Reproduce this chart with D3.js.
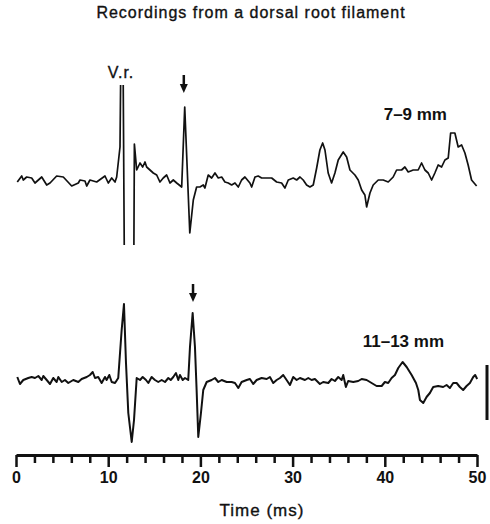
<!DOCTYPE html>
<html>
<head>
<meta charset="utf-8">
<script src="https://cdn.jsdelivr.net/npm/d3@7"></script>
<style>
body { margin:0; background:#fff; }
text { font-family: "Liberation Sans", Arial, sans-serif; fill:#111; }
</style>
</head>
<body>
<svg id="chart"></svg>
<script>
var W = 490, H = 524;

// recording 7-9 mm (time ms, amplitude arbitrary units, 0 = resting level)
var trace_79 = [
 [0.14,-2],[0.62,4],[0.79,0],[1.16,3],[1.70,2],[2.06,-3],[2.79,3],[3.33,-5],[3.69,-3],[4.41,4],
 [5.13,3],[6.04,-6],[6.76,-3],[6.94,0],[7.48,-1],[7.67,-6],[8.02,0],[8.75,-2],[9.65,4],[10.01,-3],
 [10.38,2],[10.74,-2],[10.92,3],[11.28,33],[11.36,110],[11.62,110],[11.75,-80],[12.78,-80],[12.84,36],[13.09,10],
 [13.45,17],[13.74,13],[13.99,18],[14.17,13],[14.53,10],[14.89,7],[15.26,5],[15.61,-2],[15.97,2],[16.34,5],
 [16.70,-3],[17.06,0],[17.43,-3],[17.97,-7],[18.30,73],[18.85,-53],[19.23,-20],[19.59,-7],[19.95,-7],[20.31,-5],
 [20.49,-8],[20.85,5],[21.22,2],[21.58,7],[21.94,2],[22.31,3],[22.66,-2],[23.02,-3],[23.39,-5],[23.75,-3],
 [24.11,-7],[24.47,0],[24.83,3],[25.37,-3],[25.56,-7],[25.92,3],[26.27,4],[26.64,2],[27.73,2],[28.27,-2],
 [28.81,-3],[29.17,-8],[29.53,0],[30.07,2],[30.44,0],[30.80,3],[31.15,0],[31.52,-5],[31.88,-7],[32.24,-5],
 [32.61,12],[32.96,30],[33.26,37],[33.51,30],[33.86,7],[34.23,-3],[34.59,7],[34.95,20],[35.49,28],[35.86,23],
 [36.22,10],[36.76,5],[37.12,0],[37.49,-10],[37.84,-15],[38.03,-27],[38.39,-13],[38.74,-5],[39.29,0],[39.83,0],
 [40.37,-2],[40.91,3],[41.28,10],[41.82,10],[42.18,13],[42.54,8],[43.08,10],[43.62,10],[43.99,17],[44.35,10],
 [44.71,7],[45.08,0],[45.43,7],[45.79,15],[46.16,13],[46.52,20],[46.88,22],[47.14,47],[47.60,47],[47.96,33],
 [48.33,35],[48.69,27],[49.04,15],[49.41,0],[49.96,-6]
];

// recording 11-13 mm
var trace_1113 = [
 [0.14,3],[0.43,-4],[0.79,0],[1.33,2],[1.70,3],[2.06,2],[2.42,4],[2.79,0],[2.96,4],[3.33,0],
 [3.69,-4],[4.04,2],[4.41,-2],[4.59,3],[4.96,-2],[5.31,0],[5.67,-3],[6.21,0],[6.76,-2],[7.12,1],
 [7.67,3],[8.02,5],[8.32,8],[8.57,2],[8.92,3],[9.29,-3],[9.65,3],[9.83,0],[10.12,5],[10.38,-2],
 [10.74,-3],[11.09,2],[11.46,50],[11.71,76],[11.93,17],[12.18,-33],[12.55,-62],[12.80,-40],[13.09,2],[13.45,0],
 [13.74,3],[14.10,0],[14.35,-3],[14.71,3],[15.07,0],[15.43,-2],[15.80,0],[16.16,-2],[16.52,2],[16.78,0],
 [17.06,3],[17.35,7],[17.60,0],[17.78,5],[18.08,0],[18.33,2],[18.68,0],[18.87,33],[19.16,67],[19.41,33],
 [19.59,-10],[19.77,-57],[20.06,-33],[20.31,-10],[20.68,-2],[21.22,0],[21.58,2],[21.94,-2],[22.31,0],[22.85,-2],
 [23.39,-2],[23.75,-3],[24.11,-8],[24.47,-2],[25.02,0],[25.37,1],[25.73,-4],[26.10,0],[26.64,2],[27.19,1],
 [27.54,3],[27.90,-3],[28.27,0],[28.63,2],[28.98,5],[29.35,0],[29.71,-5],[30.07,3],[30.44,0],[30.80,2],
 [31.34,0],[31.70,2],[32.06,0],[32.42,1],[32.96,-4],[33.32,-2],[33.87,-3],[34.23,1],[34.59,-1],[34.95,3],
 [35.32,0],[35.49,5],[35.78,-7],[36.03,-1],[36.58,-2],[37.12,-1],[37.49,1],[38.03,0],[38.57,-3],[39.11,-6],
 [39.66,-6],[40.01,-2],[40.37,-3],[40.74,2],[41.10,5],[41.46,12],[41.93,18],[42.37,13],[42.91,5],[43.38,-3],
 [43.63,-10],[43.81,-20],[44.17,-23],[44.53,-17],[44.89,-13],[45.25,-7],[45.79,-6],[46.33,-7],[46.70,-5],[47.06,-8],
 [47.42,-3],[47.79,-3],[48.14,-7],[48.50,-10],[48.87,-6],[49.23,-3],[49.59,3],[49.80,5],[50.02,1]
];

var labels = ["7\u20139 mm", "11\u201313 mm"];
var arrow_t = [18.2, 19.2];      // ms, marked spike
var arrow_v = [87, 78];          // tip height above resting level
var vr_t = 11.5;                 // ventral root stimulus
var tick_minor = d3.range(0, 51, 2);
var tick_major = [0, 10, 20, 30, 40, 50];
var scale_bar = [15, -40];       // amplitude calibration, in units of the lower trace

var svg = d3.select("#chart").attr("width", W).attr("height", H);

var x = d3.scaleLinear().domain([0, 50]).range([16, 477]);
var y_top = d3.scaleLinear().domain([-100, 100]).range([280, 80]);
var y_bot = d3.scaleLinear().domain([-100, 100]).range([480, 280]);

svg.append("text").attr("x", 251).attr("y", 18)
	.attr("text-anchor", "middle").style("font-size", "16px").style("letter-spacing", "1px")
	.attr("stroke", "#111").attr("stroke-width", 0.35)
	.text("Recordings from a dorsal root filament");

// clip region of the upper sweep (stimulus artefact goes off screen)
svg.append("clipPath").attr("id", "clip_top")
	.append("rect").attr("x", 0).attr("y", 85).attr("width", W).attr("height", 160);

var line_top = d3.line().x(function(d){ return x(d[0]); }).y(function(d){ return y_top(d[1]); });
var line_bot = d3.line().x(function(d){ return x(d[0]); }).y(function(d){ return y_bot(d[1]); });

svg.append("path").datum(trace_79).attr("d", line_top)
	.attr("clip-path", "url(#clip_top)")
	.attr("fill", "none").attr("stroke", "#111").attr("stroke-width", 1.7)
	.attr("stroke-linejoin", "round");

svg.append("path").datum(trace_1113).attr("d", line_bot)
	.attr("fill", "none").attr("stroke", "#111").attr("stroke-width", 2)
	.attr("stroke-linejoin", "round");

// labels
svg.append("text").attr("x", x(vr_t) - 1).attr("y", 78)
	.attr("text-anchor", "middle").style("font-size", "16px").style("letter-spacing", "1px")
	.attr("stroke", "#111").attr("stroke-width", 0.35)
	.text("V.r.");

svg.append("text").attr("x", 447).attr("y", 120).attr("text-anchor", "end")
	.style("font-size", "17px").style("font-weight", "bold").text(labels[0]);
svg.append("text").attr("x", 444).attr("y", 347).attr("text-anchor", "end")
	.style("font-size", "17px").style("font-weight", "bold").text(labels[1]);

// arrows
function arrow(xp, tip){
	svg.append("line").attr("x1", xp).attr("x2", xp).attr("y1", tip - 18).attr("y2", tip - 6)
		.attr("stroke", "#111").attr("stroke-width", 2.5);
	svg.append("path")
		.attr("d", "M" + (xp - 4) + "," + (tip - 9) + "L" + (xp + 4) + "," + (tip - 9) + "L" + xp + "," + tip + "Z")
		.attr("fill", "#111");
}
arrow(x(arrow_t[0]), y_top(arrow_v[0]));
arrow(x(arrow_t[1]), y_bot(arrow_v[1]));

// calibration bar
svg.append("line").attr("x1", 487).attr("x2", 487)
	.attr("y1", y_bot(scale_bar[0])).attr("y2", y_bot(scale_bar[1]))
	.attr("stroke", "#111").attr("stroke-width", 3);

// time axis
var axis = d3.axisBottom(x).tickValues(tick_minor).tickSize(8).tickSizeOuter(0)
	.tickFormat(function(d){ return tick_major.indexOf(d) >= 0 ? d : ""; });

var g_ax = svg.append("g").attr("transform", "translate(0,455)").call(axis);
g_ax.select(".domain").attr("stroke", "#111").attr("stroke-width", 3);
g_ax.selectAll(".tick line").attr("stroke", "#111").attr("stroke-width", 2.5)
	.attr("y2", function(d){ return tick_major.indexOf(d) >= 0 ? 12 : 8; });
g_ax.selectAll(".tick text").attr("y", 28).attr("dy", 0)
	.style("font-family", "'Liberation Sans', Arial, sans-serif")
	.style("font-size", "16px").style("font-weight", "bold").attr("fill", "#111");

svg.append("text").attr("x", 262).attr("y", 516).attr("text-anchor", "middle")
	.style("font-size", "17px").style("letter-spacing", "1px")
	.attr("stroke", "#111").attr("stroke-width", 0.35)
	.text("Time (ms)");
</script>
</body>
</html>
